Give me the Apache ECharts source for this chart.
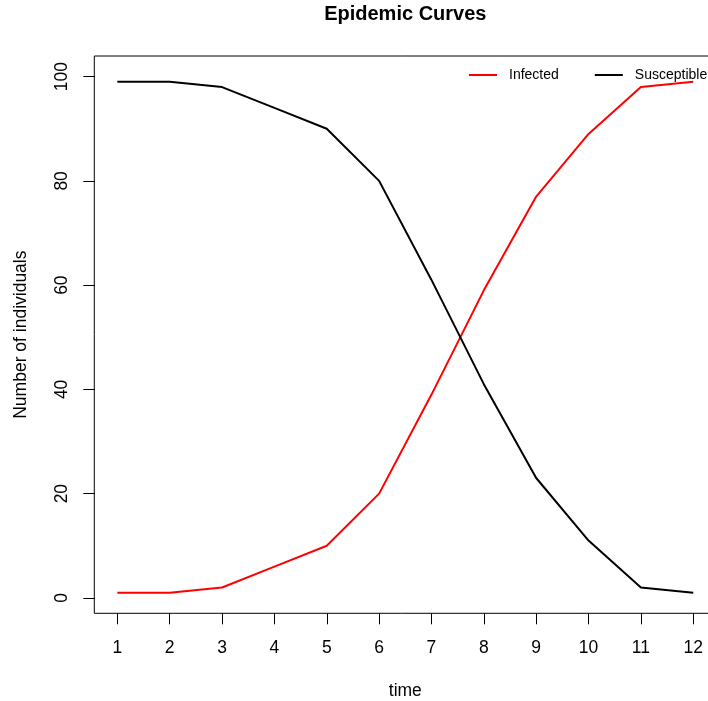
<!DOCTYPE html>
<html>
<head>
<meta charset="utf-8">
<script src="https://cdn.jsdelivr.net/npm/echarts@6/dist/echarts.min.js"></script>
<style>html,body{margin:0;padding:0;background:#fff;}#c{width:708px;height:701px;}</style>
</head>
<body>
<div id="c"></div>
<script>
const times = [1,2,3,4,5,6,7,8,9,10,11,12];
const infected = [1,1,2,6,10,20,39,59,77,89,98,99];
const susceptible = [99,99,98,94,90,80,61,41,23,11,2,1];
const xTicks = [1,2,3,4,5,6,7,8,9,10,11,12];
const yTicks = [0,20,40,60,80,100];

const FONT = 'Liberation Sans, Arial, Helvetica, sans-serif';
const chart = echarts.init(document.getElementById('c'));
chart.setOption({
  animation: false,
  backgroundColor: '#fff',
  textStyle: {fontFamily: FONT},
  graphic: [{
    type: 'text', x: 405.3, y: 14,
    style: {text: 'Epidemic Curves', font: 'bold 20px ' + FONT, fill: '#000', align: 'center', verticalAlign: 'middle'}
  }],
  legend: {
    left: 469, top: 68, width: 400, orient: 'horizontal', padding: 0,
    itemWidth: 28, itemHeight: 2, itemGap: 36,
    icon: 'rect',
    data: ['Infected', 'Susceptible'],
    textStyle: {fontSize: 14, color: '#000', fontFamily: FONT, padding: [0,0,0,7]}
  },
  grid: {
    left: 94.3, top: 56, right: -8.3, bottom: 87.7,
    outerBoundsMode: 'none', containLabel: false,
    show: true, borderColor: '#000', borderWidth: 1, backgroundColor: 'transparent'
  },
  xAxis: {
    type: 'value', min: 0.56, max: 12.44,
    name: 'time', nameLocation: 'middle', nameGap: 69,
    nameTextStyle: {fontSize: 17.5, color: '#000', fontFamily: FONT},
    axisLine: {show: false, onZero: false},
    splitLine: {show: false},
    axisTick: {show: true, length: 11, lineStyle: {color: '#000', width: 1}, customValues: xTicks},
    axisLabel: {fontSize: 17.5, color: '#000', margin: 26, customValues: xTicks, fontFamily: FONT}
  },
  yAxis: {
    type: 'value', min: -2.96, max: 103.96,
    name: 'Number of individuals', nameLocation: 'middle', nameGap: 64,
    nameTextStyle: {fontSize: 17.5, color: '#000', fontFamily: FONT},
    axisLine: {show: false, onZero: false},
    splitLine: {show: false},
    axisTick: {show: true, length: 11, lineStyle: {color: '#000', width: 1}, customValues: yTicks},
    axisLabel: {fontSize: 17.5, color: '#000', margin: 23, rotate: 90, customValues: yTicks, fontFamily: FONT}
  },
  series: [
    {name: 'Infected', type: 'line', symbol: 'none', color: '#ff0000',
     lineStyle: {width: 2, color: '#ff0000'},
     data: times.map((t, i) => [t, infected[i]])},
    {name: 'Susceptible', type: 'line', symbol: 'none', color: '#000000',
     lineStyle: {width: 2, color: '#000000'},
     data: times.map((t, i) => [t, susceptible[i]])}
  ]
});
</script>
</body>
</html>
